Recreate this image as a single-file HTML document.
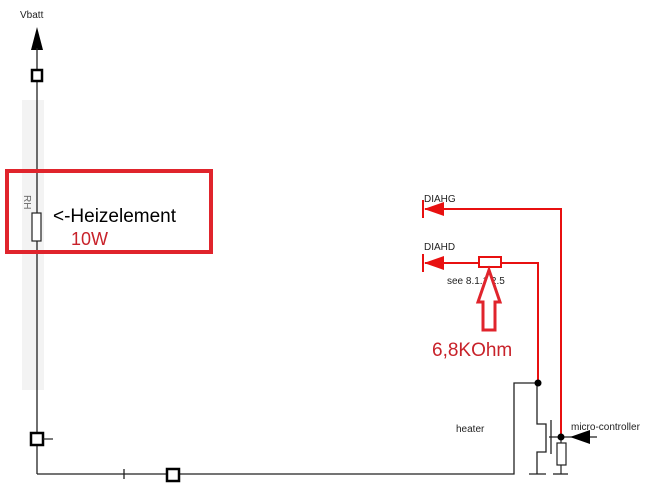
<!DOCTYPE html>
<html><head><style>body{margin:0;background:#fff}svg{display:block}</style></head><body>
<svg width="657" height="486" viewBox="0 0 657 486" xmlns="http://www.w3.org/2000/svg" font-family="Liberation Sans, sans-serif">
<rect x="0" y="0" width="657" height="486" fill="#fff"/>
<rect x="22" y="100" width="22" height="290" fill="#f3f3f3"/>
<text x="20" y="18" font-size="10" fill="#222">Vbatt</text>
<polygon points="37,27 31,50 43,50" fill="#000"/>
<line x1="37" y1="48" x2="37" y2="474" stroke="#222" stroke-width="1.3"/>
<rect x="32" y="70" width="10" height="11" fill="#fff" stroke="#000" stroke-width="2.5"/>
<rect x="32" y="213" width="9" height="28" fill="#fff" stroke="#222" stroke-width="1.2"/>
<text x="0" y="0" font-size="10" fill="#666" transform="translate(24,195) rotate(90)">RH</text>
<rect x="7" y="171" width="204" height="81" fill="none" stroke="#e0242c" stroke-width="4"/>
<text x="53" y="222" font-size="19" fill="#000">&lt;-Heizelement</text>
<text x="71" y="245" font-size="18" fill="#c8222a">10W</text>
<rect x="31" y="433" width="12" height="12" fill="#fff" stroke="#000" stroke-width="2.5"/>
<line x1="43" y1="439" x2="53" y2="439" stroke="#222" stroke-width="1.2"/>
<polyline points="37,474 514,474 514,383 538,383" fill="none" stroke="#222" stroke-width="1.3"/>
<line x1="124" y1="469" x2="124" y2="479" stroke="#222" stroke-width="1.3"/>
<rect x="167" y="469" width="12" height="12" fill="#fff" stroke="#000" stroke-width="2.5"/>
<!-- transistor -->
<polyline points="537,383 537,424 546,424 546,452 537,452 537,474" fill="none" stroke="#222" stroke-width="1.3"/>
<line x1="529" y1="474" x2="546" y2="474" stroke="#222" stroke-width="1.3"/>
<line x1="551" y1="420" x2="551" y2="454" stroke="#222" stroke-width="1.3"/>
<line x1="549" y1="437" x2="597" y2="437" stroke="#222" stroke-width="1.3"/>
<rect x="557" y="443" width="9" height="22" fill="#fff" stroke="#222" stroke-width="1.2"/>
<line x1="561" y1="437" x2="561" y2="443" stroke="#222" stroke-width="1.2"/>
<line x1="561" y1="465" x2="561" y2="474" stroke="#222" stroke-width="1.2"/>
<line x1="553" y1="474" x2="568" y2="474" stroke="#222" stroke-width="1.3"/>
<polygon points="570,437 590,430 590,444" fill="#000"/>
<text x="571" y="430" font-size="10" fill="#222">micro-controller</text>
<text x="456" y="432" font-size="10" fill="#222">heater</text>
<!-- red nets -->
<polyline points="425,209 561,209 561,437" fill="none" stroke="#e81010" stroke-width="2"/>
<polyline points="425,263 479,263" fill="none" stroke="#e81010" stroke-width="2"/>
<polyline points="501,263 538,263 538,383" fill="none" stroke="#e81010" stroke-width="2"/>
<rect x="479" y="257" width="22" height="10" fill="#fff" stroke="#e81010" stroke-width="2"/>
<line x1="423" y1="200" x2="423" y2="218" stroke="#e81010" stroke-width="2"/>
<polygon points="424,209 444,202 444,216" fill="#e81010"/>
<line x1="423" y1="254" x2="423" y2="272" stroke="#e81010" stroke-width="2"/>
<polygon points="424,263 444,256 444,270" fill="#e81010"/>
<text x="424" y="202" font-size="10" fill="#222">DIAHG</text>
<text x="424" y="250" font-size="10" fill="#222">DIAHD</text>
<text x="447" y="284" font-size="10" fill="#222">see 8.1.1.2.5</text>
<circle cx="538" cy="383" r="3.5" fill="#000"/>
<circle cx="561" cy="437" r="3.5" fill="#000"/>
<polygon points="489,270 500,302 495,302 495,330 483,330 483,302 478,302" fill="#fff" stroke="#e0242c" stroke-width="3" stroke-linejoin="miter"/>
<text x="432" y="356" font-size="19" fill="#c8222a">6,8KOhm</text>
</svg>
</body></html>
